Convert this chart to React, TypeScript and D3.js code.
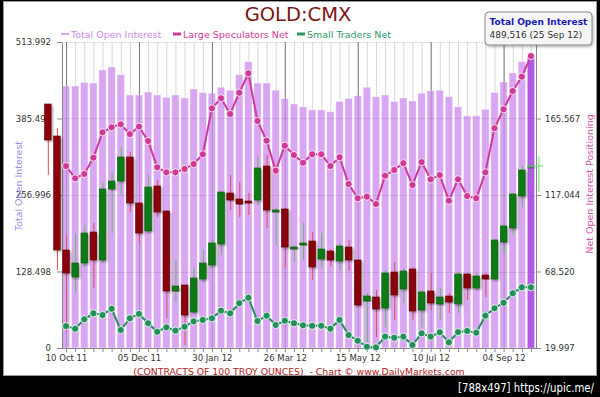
// App.tsx
import React, { useEffect, useRef } from 'react';
import * as d3 from 'd3';

// x axis labels, one every 8 weeks
const tickLabels = ['10 Oct 11', '05 Dec 11', '30 Jan 12', '26 Mar 12', '15 May 12', '10 Jul 12', '04 Sep 12'];
const lastWeekLabel = '25 Sep 12';

// Total open interest (thousands of contracts), 52 weeks
const openInterest = [440, 440, 446, 445, 467, 472, 459, 425, 425, 430, 425, 421, 425, 420, 435, 429, 428, 438, 433, 459,
  481, 445, 445, 433, 419, 410, 405, 400, 400, 397, 414, 419, 424, 438, 422, 425, 414, 420, 415, 428,
  432, 433, 422, 405, 390, 390, 401, 429, 447, 462, 481, 489.516];

// Net positioning (thousands), right axis
const largeSpecNet = [135.4, 127.6, 130.4, 140.7, 156.8, 160.0, 161.9, 155.7, 160.4, 151.3, 134.6, 131.4, 131.4, 133.5, 136.7, 142.9, 172.0, 178.4, 168.4, 181.9,
  194.2, 164.0, 151.5, 132.5, 148.3, 142.4, 137.5, 142.9, 142.9, 135.4, 141.0, 124.0, 115.0, 116.0, 111.3, 129.3, 132.9, 137.2, 123.4, 137.9,
  127.0, 129.7, 113.4, 127.0, 116.4, 115.0, 131.4, 159.4, 171.4, 183.0, 192.1, 205.2];
const smallTradersNet = [33.9, 32.2, 38.2, 42.0, 40.9, 44.9, 31.4, 38.8, 41.6, 35.7, 30.3, 33.1, 31.0, 33.5, 36.9, 37.8, 38.8, 43.7, 42.0, 48.4,
  51.9, 37.1, 40.5, 34.6, 37.3, 35.7, 34.4, 34.1, 34.1, 32.2, 37.8, 28.2, 24.6, 20.8, 20.4, 27.2, 26.5, 27.2, 21.9, 29.3,
  27.2, 30.0, 23.6, 30.1, 30.8, 29.7, 40.5, 45.2, 48.7, 54.7, 58.5, 58.5];

// weekly gold price candles, starting two weeks before the first bar
const candleFirstWeek = -2;
const candleOpen = [1764, 1732, 1618, 1591, 1605, 1636, 1608, 1679, 1687, 1711, 1665, 1637, 1682, 1657, 1577, 1583, 1556, 1589, 1603, 1624,
  1675, 1669, 1667, 1668, 1702, 1656, 1659, 1620, 1623, 1627, 1609, 1617, 1607, 1621, 1608, 1567, 1571, 1560, 1596, 1579,
  1599, 1558, 1577, 1564, 1572, 1564, 1594, 1580, 1593, 1589, 1626, 1640, 1672, 1700];
const candleClose = [1728, 1618, 1595, 1605, 1635, 1608, 1679, 1687, 1711, 1665, 1635, 1681, 1656, 1577, 1582, 1553, 1590, 1605, 1625, 1676,
  1668, 1664, 1665, 1700, 1658, 1658, 1621, 1621, 1625, 1601, 1619, 1608, 1622, 1608, 1563, 1572, 1559, 1595, 1573, 1597,
  1557, 1576, 1565, 1571, 1566, 1594, 1580, 1592, 1589, 1628, 1642, 1674, 1698, 1702];
const candleHigh = [1764, 1740, 1633, 1635, 1643, 1645, 1685, 1696, 1721, 1716, 1666, 1693, 1688, 1658, 1608, 1583, 1600, 1618, 1628, 1676,
  1693, 1686, 1675, 1711, 1713, 1660, 1660, 1623, 1645, 1636, 1635, 1619, 1625, 1628, 1609, 1575, 1578, 1598, 1606, 1600,
  1601, 1578, 1595, 1580, 1575, 1596, 1595, 1595, 1595, 1629, 1645, 1675, 1703, 1708];
const candleLow = [1693, 1598, 1536, 1575, 1601, 1580, 1605, 1635, 1673, 1656, 1625, 1635, 1651, 1550, 1566, 1523, 1555, 1586, 1600, 1613,
  1658, 1651, 1653, 1663, 1640, 1623, 1601, 1606, 1608, 1588, 1600, 1601, 1597, 1597, 1561, 1526, 1531, 1541, 1548, 1565,
  1548, 1541, 1558, 1548, 1555, 1555, 1568, 1578, 1571, 1588, 1615, 1633, 1661, 1688];

const leftTicks = [0, 128.498, 256.996, 385.494, 513.992];
const rightTicks = [19.997, 68.520, 117.044, 165.567];
const rightMax = 214.09;
const priceDomain = [1520, 1826];

const FONT = 'DejaVu Sans, Verdana, sans-serif';

const Chart: React.FC = () => {
  const svgRef = useRef<SVGSVGElement>(null);

  useEffect(() => {
    if (!svgRef.current) return;
    const svg = d3.select(svgRef.current);
    svg.selectAll('*').remove();

    const left = 62, right = 536, top = 42, bottom = 348;
    const n = openInterest.length;

    const x = d3.scaleLinear().domain([-0.5, n - 0.5]).range([left - 0.5, right - 0.5]);
    const step = x(1) - x(0);
    const yL = d3.scaleLinear().domain([0, leftTicks[leftTicks.length - 1]]).range([bottom, top]);
    const yR = d3.scaleLinear().domain([rightTicks[0], rightMax]).range([bottom, top]);
    const yP = d3.scaleLinear().domain(priceDomain).range([bottom, top]);

    const defs = svg.append('defs');
    const sh = defs.append('filter').attr('id', 'shadow').attr('x', '-50%').attr('y', '-20%').attr('width', '200%').attr('height', '140%');
    sh.append('feDropShadow').attr('dx', 1.5).attr('dy', 1.5).attr('stdDeviation', 1).attr('flood-color', '#000').attr('flood-opacity', 0.35);
    const sh2 = defs.append('filter').attr('id', 'boxshadow').attr('x', '-20%').attr('y', '-30%').attr('width', '140%').attr('height', '160%');
    sh2.append('feDropShadow').attr('dx', 1).attr('dy', 1.5).attr('stdDeviation', 1.2).attr('flood-color', '#000').attr('flood-opacity', 0.3);

    // frame
    svg.append('rect').attr('width', 600).attr('height', 397).attr('fill', '#000');
    svg.append('rect').attr('x', 3.5).attr('y', 1.5).attr('width', 593).attr('height', 374)
      .attr('fill', '#fff').attr('stroke', '#999');

    // vertical grid, one per week
    const weeks = d3.range(n);
    svg.append('g').selectAll('line').data(weeks).join('line')
      .attr('x1', d => x(d) + 0.5).attr('x2', d => x(d) + 0.5)
      .attr('y1', top).attr('y2', bottom)
      .attr('stroke', d => (d % 8 === 0 ? '#8a8a8a' : '#d8d8d8')).attr('stroke-width', 1);

    // open interest bars
    const bw = step * 0.8;
    svg.append('g').selectAll('rect').data(openInterest).join('rect')
      .attr('x', (_, i) => x(i) - bw / 2)
      .attr('width', bw)
      .attr('y', d => yL(d))
      .attr('height', d => bottom - yL(d))
      .attr('fill', (_, i) => (i === n - 1 ? '#b456e8' : '#d9a6f3'))
      .attr('stroke', '#fff').attr('stroke-opacity', 0.45).attr('stroke-width', 0.8);

    // horizontal grid over bars
    svg.append('g').selectAll('line').data(leftTicks.slice(1)).join('line')
      .attr('x1', left).attr('x2', right)
      .attr('y1', d => Math.round(yL(d)) + 0.5).attr('y2', d => Math.round(yL(d)) + 0.5)
      .attr('stroke', '#7a5a8a').attr('stroke-opacity', 0.18);
    svg.append('g').selectAll('line').data(weeks.filter(d => d % 8 === 0)).join('line')
      .attr('x1', d => x(d) + 0.5).attr('x2', d => x(d) + 0.5)
      .attr('y1', top).attr('y2', bottom)
      .attr('stroke', '#6a5a7a').attr('stroke-opacity', 0.35);

    // axes
    const styleAxis = (g: d3.Selection<SVGGElement, unknown, null, undefined>) => {
      g.selectAll('.domain').attr('stroke', '#888');
      g.selectAll('.tick line').attr('stroke', '#888');
      g.selectAll('.tick text').attr('fill', '#333').style('font-family', FONT).style('font-size', '8.5px');
    };
    svg.append('g').attr('transform', `translate(${left},0)`)
      .call(d3.axisLeft(yL).tickValues(leftTicks).tickSize(5).tickPadding(6).tickSizeOuter(0)
        .tickFormat(d => (+d === 0 ? '0' : d3.format('.3f')(+d))))
      .call(styleAxis);
    svg.append('g').attr('transform', `translate(${right},0)`)
      .call(d3.axisRight(yR).tickValues(rightTicks).tickSize(5).tickPadding(4).tickSizeOuter(0).tickFormat(d3.format('.3f')))
      .call(styleAxis);
    svg.append('g').attr('transform', `translate(0,${bottom})`)
      .call(d3.axisBottom(x).tickValues(weeks).tickSize(4).tickSizeOuter(0)
        .tickFormat(d => (+d % 8 === 0 ? tickLabels[+d / 8] : '')))
      .call(styleAxis);

    // candles
    const candles = candleOpen.map((o, k) => ({
      w: k + candleFirstWeek, o, c: candleClose[k], h: candleHigh[k], l: candleLow[k],
    }));
    const cw = step * 0.72;
    const cg = svg.append('g');
    cg.selectAll('line').data(candles).join('line')
      .attr('x1', d => x(d.w) + 0.5).attr('x2', d => x(d.w) + 0.5)
      .attr('y1', d => yP(d.h)).attr('y2', d => yP(d.l))
      .attr('stroke', d => (d.c >= d.o ? '#5bbf5b' : '#e0505a'))
      .attr('opacity', d => (d.w === n - 1 ? 0.5 : 1));
    cg.selectAll('rect').data(candles).join('rect')
      .attr('x', d => x(d.w) - cw / 2)
      .attr('width', cw)
      .attr('y', d => yP(Math.max(d.o, d.c)))
      .attr('height', d => Math.max(2, Math.abs(yP(d.o) - yP(d.c))))
      .attr('fill', d => (d.c >= d.o ? '#0a7a12' : '#8a0408'))
      .attr('stroke', d => (d.c >= d.o ? '#066010' : '#600004')).attr('stroke-width', 0.6)
      .attr('opacity', d => (d.w === n - 1 ? 0.45 : 1))
      .attr('filter', 'url(#shadow)');
    const lastC = candles[candles.length - 1];
    svg.append('line').attr('x1', x(lastC.w) - 4).attr('x2', x(lastC.w) + 12)
      .attr('y1', yP(lastC.c)).attr('y2', yP(lastC.c)).attr('stroke', '#66dd66');
    svg.append('line').attr('x1', x(lastC.w) + 8).attr('x2', x(lastC.w) + 8)
      .attr('y1', yP(lastC.h) - 4).attr('y2', yP(lastC.l) + 12).attr('stroke', '#66dd66');

    // net positioning lines
    const drawLine = (vals: number[], color: string) => {
      const line = d3.line<number>().x((_, i) => x(i)).y(d => yR(d));
      svg.append('path').datum(vals).attr('fill', 'none').attr('stroke', color).attr('stroke-width', 2).attr('d', line);
      svg.append('g').selectAll('circle').data(vals).join('circle')
        .attr('cx', (_, i) => x(i)).attr('cy', d => yR(d)).attr('r', 3.6)
        .attr('fill', color).attr('stroke', '#fff').attr('stroke-opacity', 0.8).attr('stroke-width', 1);
    };
    drawLine(largeSpecNet, '#cf3a98');
    drawLine(smallTradersNet, '#22905a');

    // title
    svg.append('text').attr('x', 298).attr('y', 21).attr('text-anchor', 'middle')
      .style('font-family', FONT).style('font-size', '19.5px').attr('fill', '#7d1515').text('GOLD:CMX');

    // legend
    const legend = [
      { label: 'Total Open Interest', color: '#c98ae8', x: 61, thick: 1.5 },
      { label: 'Large Speculators Net', color: '#cf3a98', x: 173, thick: 3 },
      { label: 'Small Traders Net', color: '#2f9a66', x: 297, thick: 3 },
    ];
    const lg = svg.append('g').selectAll('g').data(legend).join('g')
      .attr('transform', d => `translate(${d.x},34)`);
    lg.append('line').attr('x1', 0).attr('x2', 8).attr('stroke', d => d.color).attr('stroke-width', d => d.thick);
    lg.append('text').attr('x', 10).attr('y', 3.5).attr('fill', d => d.color)
      .style('font-family', FONT).style('font-size', '9.5px').text(d => d.label);

    // axis titles
    svg.append('text').attr('transform', 'translate(22,186) rotate(-90)').attr('text-anchor', 'middle')
      .style('font-family', FONT).style('font-size', '9.5px').attr('fill', '#9a8cf2').text('Total Open Interest');
    svg.append('text').attr('transform', 'translate(593,184) rotate(-90)').attr('text-anchor', 'middle')
      .style('font-family', FONT).style('font-size', '9.5px').attr('fill', '#d455a8').text('Net Open Interest Positioning');

    // caption
    svg.append('text').attr('x', 299).attr('y', 375).attr('text-anchor', 'middle')
      .style('font-family', FONT).style('font-size', '9.3px').attr('fill', '#b22222')
      .attr('xml:space', 'preserve')
      .text('(CONTRACTS OF 100 TROY OUNCES)  - Chart \u00a9 www.DailyMarkets.com');

    // tooltip box for last week
    const tip = svg.append('g').attr('transform', 'translate(485,12)');
    tip.append('rect').attr('width', 107).attr('height', 33).attr('rx', 4)
      .attr('fill', '#f6f6f6').attr('stroke', '#8a8a8a').attr('filter', 'url(#boxshadow)');
    tip.append('text').attr('x', 4.5).attr('y', 13).style('font-family', FONT).style('font-size', '9px')
      .style('font-weight', 'bold').attr('fill', '#1a1ab5').text('Total Open Interest');
    tip.append('text').attr('x', 4.5).attr('y', 26).style('font-family', FONT).style('font-size', '9px')
      .attr('fill', '#333').text(`${d3.format(',')(Math.round(openInterest[n - 1] * 1000))} (${lastWeekLabel})`);

    // watermark strip (narrowed horizontally)
    svg.append('text').attr('transform', 'translate(594,392) scale(0.78,1)').attr('text-anchor', 'end')
      .style('font-family', FONT).style('font-size', '13px').attr('fill', '#fff').text('[788x497] https://upic.me/');
  }, []);

  return <svg ref={svgRef} width={600} height={397} style={{ position: 'absolute', left: 0, top: 0 }}></svg>;
};

export default function App() {
  return <Chart />;
}
